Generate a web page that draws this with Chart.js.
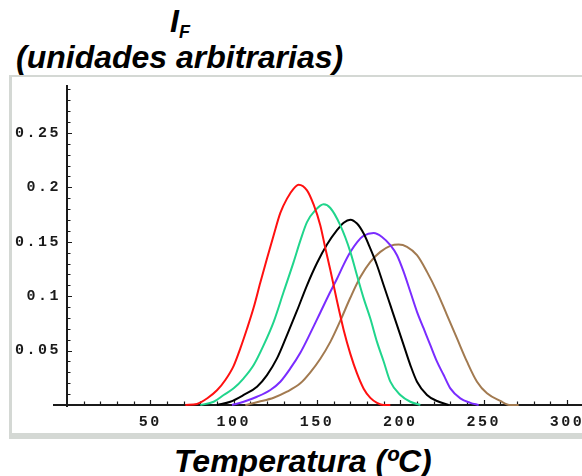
<!DOCTYPE html>
<html>
<head>
<meta charset="utf-8">
<script src="https://cdn.jsdelivr.net/npm/chart.js@4.4.1/dist/chart.umd.min.js"></script>
<style>
  body { margin: 0; background: #fff; width: 582px; height: 476px; overflow: hidden; position: relative; }
  .titulo { position: absolute; font-family: "Liberation Sans", Arial, sans-serif; font-weight: bold; font-style: italic;
            font-size: 32px; line-height: 32px; color: #000; white-space: nowrap; }
  .titulo sub { font-size: 18px; vertical-align: -6px; line-height: 0; }
  #marco { position: absolute; left: 9px; top: 75px; width: 600px; height: 356px; background: #fff;
           border-top: 2px solid #d4d8d4; border-left: 3px solid #d4d8d4; border-bottom: 6px solid #d4d8d4; }
  #grafica { position: absolute; left: 0; top: 0; }
</style>
</head>
<body>
<div class="titulo" style="left:170px; top:5px;">I<sub>F</sub></div>
<div class="titulo" style="left:16px; top:41px;">(unidades arbitrarias)</div>
<div id="marco"><canvas id="grafica" width="570" height="356"></canvas></div>
<div class="titulo" style="left:174px; top:445px;">Temperatura (ºC)</div>

<script>
// curvas de brillo (temperatura en ºC, intensidad)
const tempRoja = [71, 78, 84, 90, 95, 100, 104, 108, 112, 116, 120, 124, 128, 132, 136, 139, 144, 148, 152, 155, 158, 162, 166, 170, 174, 178, 182, 186, 190, 194];
const intRoja  = [0, 0.001, 0.006, 0.0135, 0.023, 0.036, 0.052, 0.070, 0.0895, 0.1125, 0.1346, 0.156, 0.1765, 0.1896, 0.1988, 0.2024, 0.1972, 0.184, 0.165, 0.144, 0.124, 0.0955, 0.069, 0.047, 0.029, 0.015, 0.0065, 0.002, 0, 0];

const tempVerde = [80, 88, 94, 100, 106, 112, 118, 124, 130, 136, 140, 144, 149, 154, 158, 164, 170, 174, 178, 182, 186, 190, 194, 200, 206, 212];
const intVerde  = [0, 0.003, 0.0092, 0.0153, 0.0245, 0.0367, 0.055, 0.0764, 0.104, 0.1315, 0.151, 0.168, 0.179, 0.1844, 0.181, 0.165, 0.1407, 0.119, 0.098, 0.0795, 0.058, 0.040, 0.0214, 0.0092, 0.003, 0];

const tempNegra = [90, 98, 106, 114, 120, 126, 132, 138, 144, 150, 156, 162, 166, 170, 174, 178, 182, 186, 190, 194, 198, 202, 206, 210, 216, 222, 229];
const intNegra  = [0, 0.003, 0.0092, 0.0168, 0.0275, 0.0428, 0.0642, 0.0866, 0.110, 0.1305, 0.1475, 0.1606, 0.1675, 0.1703, 0.1667, 0.1575, 0.1437, 0.1284, 0.110, 0.0917, 0.0734, 0.055, 0.0367, 0.0214, 0.0092, 0.0037, 0];

const tempMorada = [99, 106, 114, 122, 128, 134, 140, 146, 152, 158, 162, 166, 170, 174, 178, 184, 189, 194, 198, 202, 206, 210, 214, 218, 222, 226, 230, 236, 242, 247];
const intMorada  = [0, 0.003, 0.0076, 0.0138, 0.0214, 0.0336, 0.048, 0.066, 0.085, 0.104, 0.116, 0.129, 0.1405, 0.1495, 0.1555, 0.158, 0.1544, 0.1468, 0.1376, 0.1223, 0.104, 0.0856, 0.0703, 0.055, 0.0398, 0.0275, 0.0153, 0.0061, 0.002, 0];

const tempCafe = [107, 115, 124, 132, 140, 146, 152, 158, 164, 170, 176, 182, 188, 194, 199, 204, 210, 216, 222, 228, 234, 240, 246, 252, 260, 266, 271];
const intCafe  = [0, 0.003, 0.0067, 0.0122, 0.0199, 0.030, 0.0425, 0.058, 0.0775, 0.0985, 0.1175, 0.1315, 0.1407, 0.1462, 0.1474, 0.1453, 0.1376, 0.1223, 0.104, 0.0826, 0.0612, 0.0398, 0.0214, 0.0107, 0.0037, 0, 0];

const series  = [[tempRoja, intRoja], [tempVerde, intVerde], [tempNegra, intNegra], [tempMorada, intMorada], [tempCafe, intCafe]];
const colores = ['#ff1010', '#20d58c', '#000000', '#7a2cff', '#a27a50'];

// rango de ejes y marcas
const ejeX = { min: 0, max: 309, paso: 50, menor: 10 };
const ejeY = { min: 0, max: 0.294, paso: 0.05, menor: 0.01 };

const juntaPuntos = function (temps, ints) {
    return temps.map((t, i) => ({ x: t, y: ints[i] }));
};

// sin relleno extra alrededor del area de la grafica
const sinRelleno = function (s) {
    s.paddingTop = 0; s.paddingBottom = 0; s.paddingLeft = 0; s.paddingRight = 0;
};

// ejes cruzados en el origen con marcas hacia adentro (estilo Mathematica)
const dibujaEjes = {
    id: 'dibujaEjes',
    beforeUpdate(chart) { chart.ctx.letterSpacing = '2.5px'; },
    beforeDraw(chart) { chart.ctx.letterSpacing = '2.5px'; },
    beforeDatasetsDraw(chart) {
        const ctx = chart.ctx;
        const sx = chart.scales.x, sy = chart.scales.y;
        const x0 = sx.getPixelForValue(0), y0 = sy.getPixelForValue(0);
        ctx.save();
        ctx.strokeStyle = '#1a1a1a';
        ctx.lineWidth = 2;
        ctx.beginPath();
        ctx.moveTo(x0 - 14, y0); ctx.lineTo(sx.right, y0);
        ctx.moveTo(x0, y0 + 2); ctx.lineTo(x0, sy.top);
        ctx.stroke();
        ctx.lineWidth = 1.2;
        ctx.beginPath();
        for (let t = ejeX.menor; t <= ejeX.max; t += ejeX.menor) {
            const px = Math.round(sx.getPixelForValue(t)) + 0.5;
            const largo = (t % ejeX.paso === 0) ? 5 : 3.5;
            ctx.moveTo(px, y0); ctx.lineTo(px, y0 - largo);
        }
        for (let k = 1; k * ejeY.menor <= ejeY.max; k++) {
            const py = Math.round(sy.getPixelForValue(k * ejeY.menor)) + 0.5;
            const largo = (k % 5 === 0) ? 5 : 3.5;
            ctx.moveTo(x0, py); ctx.lineTo(x0 + largo, py);
        }
        ctx.stroke();
        ctx.restore();
    }
};

const fuenteTicks = { family: "'Liberation Mono', 'DejaVu Sans Mono', monospace", size: 15, weight: 'bold' };

new Chart(document.getElementById('grafica'), {
    type: 'line',
    data: {
        datasets: series.map((s, i) => ({
            data: juntaPuntos(s[0], s[1]),
            borderColor: colores[i],
            borderWidth: 2,
            pointRadius: 0,
            cubicInterpolationMode: 'monotone',
            fill: false,
            clip: false
        }))
    },
    options: {
        responsive: false,
        animation: false,
        devicePixelRatio: 1,
        layout: { padding: { top: 8, left: 0, right: 0, bottom: 0 } },
        plugins: { legend: { display: false }, tooltip: { enabled: false } },
        scales: {
            x: {
                type: 'linear', min: ejeX.min, max: ejeX.max,
                grid: { display: false, drawTicks: false }, border: { display: false },
                ticks: { stepSize: ejeX.paso, includeBounds: false, color: '#1a1a1a', font: fuenteTicks, padding: 8, maxRotation: 0,
                         callback: v => v === 0 ? '' : String(v) },
                afterFit: s => { s.height = 28; sinRelleno(s); }
            },
            y: {
                type: 'linear', min: ejeY.min, max: ejeY.max,
                grid: { display: false, drawTicks: false }, border: { display: false },
                ticks: { stepSize: ejeY.paso, includeBounds: false, color: '#1a1a1a', font: fuenteTicks, padding: 6,
                         callback: v => v === 0 ? '' : String(parseFloat(v.toFixed(2))) },
                afterFit: s => { s.width = 55; sinRelleno(s); }
            }
        }
    },
    plugins: [dibujaEjes]
});
</script>
</body>
</html>
